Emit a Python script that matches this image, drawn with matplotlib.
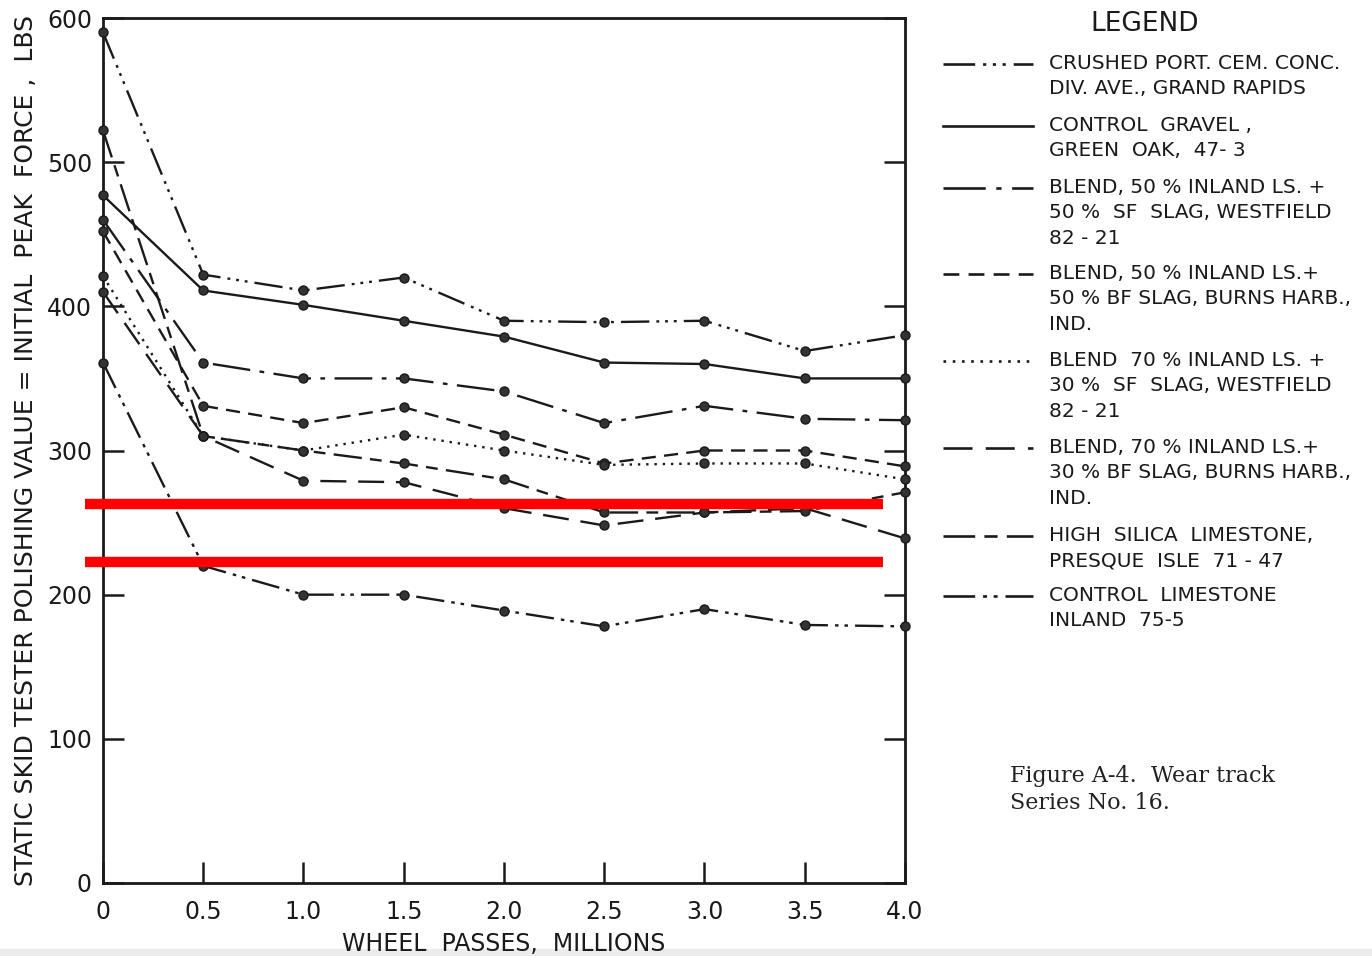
import matplotlib
matplotlib.use('Agg')
import matplotlib.pyplot as plt
from matplotlib.lines import Line2D
from matplotlib.patches import Rectangle

# wheel passes, millions
passes = [0, 0.5, 1.0, 1.5, 2.0, 2.5, 3.0, 3.5, 4.0]

# initial peak force, lbs
crushed_pcc = [590, 422, 411, 420, 390, 389, 390, 369, 380]
control_gravel = [477, 411, 401, 390, 379, 361, 360, 350, 350]
blend50_sf = [460, 361, 350, 350, 341, 319, 331, 322, 321]
blend50_bf = [452, 331, 319, 330, 311, 291, 300, 300, 289]
blend70_sf = [421, 310, 300, 311, 300, 290, 291, 291, 280]
blend70_bf = [410, 310, 279, 278, 260, 248, 257, 260, 239]
high_silica = [522, 310, 300, 291, 280, 257, 257, 258, 271]
control_ls = [361, 220, 200, 200, 189, 178, 190, 179, 178]

legend_labels = [
    "CRUSHED PORT. CEM. CONC.\nDIV. AVE., GRAND RAPIDS",
    "CONTROL  GRAVEL ,\nGREEN  OAK,  47- 3",
    "BLEND, 50 % INLAND LS. +\n50 %  SF  SLAG, WESTFIELD\n82 - 21",
    "BLEND, 50 % INLAND LS.+\n50 % BF SLAG, BURNS HARB.,\nIND.",
    "BLEND  70 % INLAND LS. +\n30 %  SF  SLAG, WESTFIELD\n82 - 21",
    "BLEND, 70 % INLAND LS.+\n30 % BF SLAG, BURNS HARB.,\nIND.",
    "HIGH  SILICA  LIMESTONE,\nPRESQUE  ISLE  71 - 47",
    "CONTROL  LIMESTONE\nINLAND  75-5",
]

# red marker bands drawn over the scan
red_levels = [263, 223]
red_span = [-0.09, 3.89]

series = [crushed_pcc, control_gravel, blend50_sf, blend50_bf,
          blend70_sf, blend70_bf, high_silica, control_ls]
styles = [
    (0, (12, 3, 1.2, 2.5, 1.2, 2.5, 1.2, 3)),
    '-',
    (0, (16, 4, 2, 4)),
    (0, (6, 3.5)),
    (0, (1, 2.5)),
    (0, (11, 5)),
    (0, (12, 3.5, 5, 3.5)),
    (0, (12, 3, 1.5, 2.5, 1.5, 3)),
]
ink = '#1a1a1a'

fig = plt.figure(figsize=(13.72, 9.56), dpi=100)
ax = fig.add_axes([103 / 1372, 73 / 956, 802 / 1372, 865 / 956])

for vals, ls in zip(series, styles):
    ax.plot(passes, vals, color=ink, linestyle=ls, linewidth=1.7,
            marker='o', markersize=6.5, markerfacecolor='#333333',
            markeredgecolor=ink, clip_on=False, zorder=3)

for lvl in red_levels:
    ax.plot(red_span, [lvl, lvl], color='#ff0000', linewidth=7.5,
            solid_capstyle='butt', clip_on=False, zorder=5)

ax.set_xlim(0, 4.0)
ax.set_ylim(0, 600)
ax.set_xticks(passes)
ax.set_xticklabels(['0', '0.5', '1.0', '1.5', '2.0', '2.5', '3.0', '3.5', '4.0'])
ax.set_yticks([0, 100, 200, 300, 400, 500, 600])
ax.tick_params(axis='both', direction='in', length=15, width=1.8, colors=ink,
               labelsize=17)
ax.tick_params(axis='y', right=True, pad=8)
ax.tick_params(axis='x', pad=12)
for sp in ax.spines.values():
    sp.set_linewidth(2)
    sp.set_color(ink)

ax.set_xlabel('WHEEL  PASSES,  MILLIONS', fontsize=17, color=ink, labelpad=6)
ax.set_ylabel('STATIC SKID TESTER POLISHING VALUE = INITIAL  PEAK  FORCE ,  LBS',
              fontsize=18, color=ink, labelpad=6)

# legend block
fig.text(1145 / 1372, 1 - 24 / 956, 'LEGEND', fontsize=19, color=ink,
         ha='center', va='center')
entry_y = [64, 126, 188, 274, 361, 448, 536, 596]
for y, lab, ls in zip(entry_y, legend_labels, styles):
    fy = 1 - y / 956
    fig.add_artist(Line2D([943 / 1372, 1033 / 1372], [fy, fy], color=ink,
                          linestyle=ls, linewidth=1.9))
    fig.text(1049 / 1372, 1 - (y - 10) / 956, lab, fontsize=14.5, color=ink,
             ha='left', va='top', linespacing=1.42)

fig.text(1010 / 1372, 1 - 765 / 956, 'Figure A-4.  Wear track\nSeries No. 16.',
         family='DejaVu Serif', fontsize=16, color='#222222',
         ha='left', va='top', linespacing=1.3)

fig.add_artist(Rectangle((0, 0), 1, 7 / 956, transform=fig.transFigure,
                         color='#ececec', zorder=0))

fig.savefig('out.png', dpi=100)
